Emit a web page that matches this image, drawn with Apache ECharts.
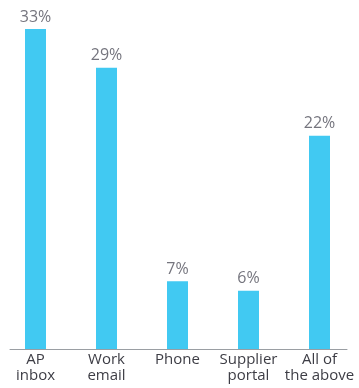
<!DOCTYPE html>
<html>
<head>
<meta charset="utf-8">
<script src="https://cdn.jsdelivr.net/npm/echarts@6/dist/echarts.min.js"></script>
<style>
  html, body { margin: 0; padding: 0; background: #ffffff; }
  #chart { width: 359px; height: 388px; }
</style>
</head>
<body>
<div id="chart"></div>
<script>
// Channels and their share of responses (%)
const categories = ['AP\ninbox', 'Work\nemail', 'Phone', 'Supplier\nportal', 'All of\nthe above'];
const shares = [33, 29, 7, 6, 22];

const chart = echarts.init(document.getElementById('chart'), null, { renderer: 'canvas' });

chart.setOption({
  animation: false,
  grid: [
    { left: 0, right: 4, top: 0, bottom: 39, containLabel: false },
    { left: 10, right: 12, top: 0, bottom: 39, containLabel: false }
  ],
  xAxis: [
    {
      type: 'category',
      gridIndex: 0,
      data: categories,
      axisLine: { show: false },
      axisTick: { show: false },
      axisLabel: {
        color: '#3d3d45',
        fontFamily: 'Open Sans',
        fontSize: 15,
        lineHeight: 16,
        margin: 3,
        interval: 0
      }
    },
    {
      type: 'category',
      gridIndex: 1,
      data: [],
      axisLine: { show: true, lineStyle: { color: '#9a9ea3', width: 1 } },
      axisTick: { show: false },
      axisLabel: { show: false }
    }
  ],
  yAxis: [
    { type: 'value', gridIndex: 0, min: 0, max: 36, show: false },
    { type: 'value', gridIndex: 1, min: 0, max: 36, show: false }
  ],
  series: [{
    type: 'bar',
    xAxisIndex: 0,
    yAxisIndex: 0,
    data: shares,
    barWidth: 21,
    itemStyle: { color: '#41c9f2' },
    label: {
      show: true,
      position: 'top',
      distance: 4,
      formatter: p => p.value + '%',
      color: '#75757e',
      fontFamily: 'Open Sans',
      fontSize: 16
    }
  }]
});
</script>
</body>
</html>
